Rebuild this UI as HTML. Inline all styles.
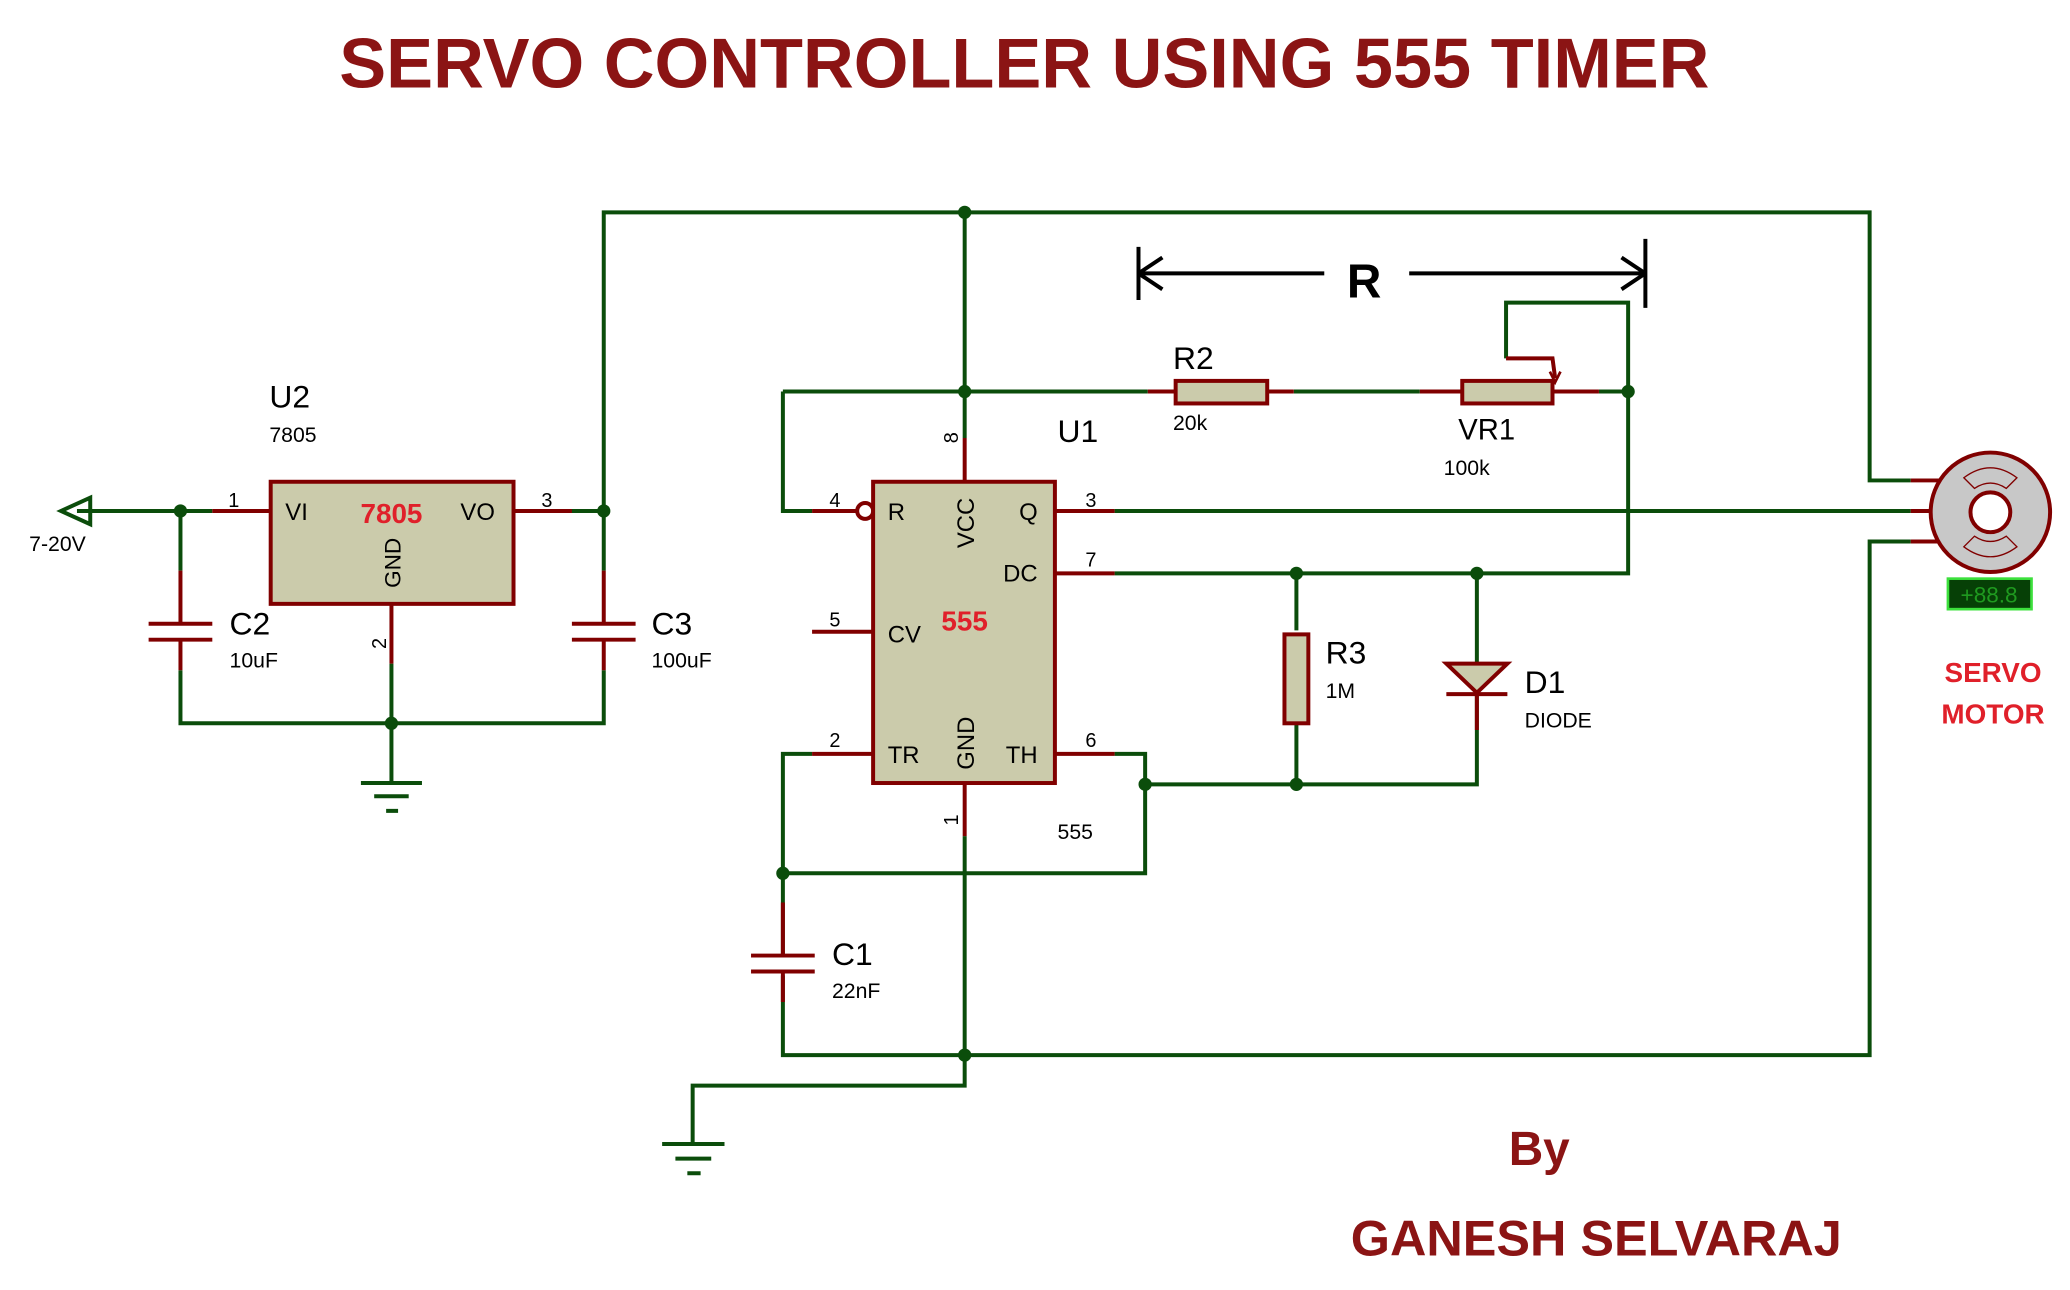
<!DOCTYPE html>
<html><head><meta charset="utf-8"><style>html,body{margin:0;padding:0;background:#fff}svg{display:block}</style></head>
<body>
<svg width="2070" height="1290" viewBox="0 0 1560 972" preserveAspectRatio="none" xmlns="http://www.w3.org/2000/svg" font-family="Liberation Sans, sans-serif">
<rect width="1560" height="972" fill="#fff"/>
<text x="772" y="66" text-anchor="middle" font-size="53" font-weight="bold" fill="#8b1414">SERVO CONTROLLER USING 555 TIMER</text>
<g fill="none" stroke="#0b4d0b" stroke-width="3">
<path d="M58 385 H160"/><path d="M136 385 V430 M136 505 V545 H455 V505 M455 430 V160 H1409 V362 H1440"/>
<path d="M295 545 V590"/><path d="M295 500 V545"/>
<path d="M387 385 H455"/>
<path d="M727 160 V330"/><path d="M590 295 H865 M590 295 V385 H612"/>
<path d="M975 295 H1070 M1205 295 H1227 V432 H840"/>
<path d="M1135 270 V228 H1227 V295"/>
<path d="M840 385 H1440"/>
<path d="M977 432 V475 M977 545 V591 M1113 432 V500 M1113 523 V591 H863 V568 H840 M863 591 V658 H590 V568 H612"/>
<path d="M590 658 V720 M590 735 V795 H1409 V408 H1440"/>
<path d="M727 630 V818 H522 V862"/>
</g>
<g fill="#0b4d0b">
<circle cx="136" cy="385" r="5"/><circle cx="455" cy="385" r="5"/><circle cx="295" cy="545" r="5"/>
<circle cx="727" cy="160" r="5"/><circle cx="727" cy="295" r="5"/><circle cx="1227" cy="295" r="5"/>
<circle cx="977" cy="432" r="5"/><circle cx="1113" cy="432" r="5"/><circle cx="977" cy="591" r="5"/>
<circle cx="863" cy="591" r="5"/><circle cx="590" cy="658" r="5"/><circle cx="727" cy="795" r="5"/>
</g>
<path d="M68 375 L46 385 L68 395 Z" fill="none" stroke="#0b4d0b" stroke-width="3"/>
<text x="22" y="415" font-size="16">7-20V</text>
<g stroke="#0b4d0b" stroke-width="3"><path d="M272 590 H318 M282 600 H308 M291 611 H300"/><path d="M499 862 H546 M509 873 H536 M518 884 H528"/></g>
<g stroke="#800000" stroke-width="3" fill="none">
<path d="M112 470 H160 M112 482 H160 M136 430 V470 M136 482 V505"/>
<path d="M431 470 H479 M431 482 H479 M455 430 V470 M455 482 V505"/>
<path d="M566 720 H614 M566 732 H614 M590 680 V720 M590 732 V755"/>
<path d="M160 385 H204 M387 385 H431 M295 455 V500"/>
<path d="M727 330 V363 M612 476 H658 M612 568 H658 M727 590 V630 M796 385 H840 M796 432 H840 M796 568 H840 M612 385 H646"/>
<path d="M865 295 H886 M955 295 H975 M1070 295 H1102 M1170 295 H1205"/>
<path d="M1135 270 H1170 L1172 285"/>
<path d="M1113 500 V550"/>
<path d="M1440 362 H1470 M1440 385 H1460 M1440 408 H1470"/>
</g>
<circle cx="652" cy="385" r="6" fill="#fff" stroke="#800000" stroke-width="3"/>
<path d="M1168 280 L1172 288 L1176 280" fill="none" stroke="#800000" stroke-width="2"/>
<rect x="204" y="363" width="183" height="92" fill="#cbcbab" stroke="#800000" stroke-width="3"/>
<rect x="658" y="363" width="137" height="227" fill="#cbcbab" stroke="#800000" stroke-width="3"/>
<rect x="886" y="287" width="69" height="17" fill="#cbcbab" stroke="#800000" stroke-width="3"/>
<rect x="1102" y="287" width="68" height="17" fill="#cbcbab" stroke="#800000" stroke-width="3"/>
<rect x="968" y="478" width="18" height="67" fill="#cbcbab" stroke="#800000" stroke-width="3"/>
<path d="M1090 500 H1136 L1113 522 Z" fill="#cbcbab" stroke="#800000" stroke-width="3"/>
<path d="M1090 523 H1136" stroke="#800000" stroke-width="3"/>
<circle cx="1500" cy="386" r="45" fill="#c8c8c8" stroke="#800000" stroke-width="3"/>
<circle cx="1500" cy="386" r="15" fill="#fff" stroke="#800000" stroke-width="3"/>
<path d="M1480 360 Q1500 345 1520 360 L1512 368 Q1500 360 1488 368 Z M1480 412 Q1500 427 1520 412 L1512 404 Q1500 412 1488 404 Z" fill="none" stroke="#800000" stroke-width="1"/>
<rect x="1468" y="436" width="63" height="23" fill="#064006" stroke="#3ce03c" stroke-width="2"/>
<text x="1499" y="454" text-anchor="middle" font-size="17" fill="#1f9a1f">+88.8</text>
<text x="1502" y="514" text-anchor="middle" font-size="21" font-weight="bold" fill="#e0202a">SERVO</text>
<text x="1502" y="545" text-anchor="middle" font-size="21" font-weight="bold" fill="#e0202a">MOTOR</text>
<g stroke="#000" stroke-width="3" fill="none"><path d="M858 206 H998 M858 186 V226 M858 206 L876 194 M858 206 L876 218"/><path d="M1062 206 H1240 M1240 180 V232 M1240 206 L1222 194 M1240 206 L1222 218"/></g>
<text x="1028" y="224" text-anchor="middle" font-size="36" font-weight="bold">R</text>
<g font-size="18" fill="#000">
<text x="203" y="307" font-size="24">U2</text><text x="203" y="333" font-size="16">7805</text>
<text x="215" y="392">VI</text><text x="347" y="392">VO</text>
<text x="172" y="382" font-size="15">1</text><text x="408" y="382" font-size="15">3</text>
<text transform="translate(302 443) rotate(-90)" font-size="17">GND</text>
<text transform="translate(291 489) rotate(-90)" font-size="15">2</text>
<text x="173" y="478" font-size="24">C2</text><text x="173" y="503" font-size="16">10uF</text>
<text x="491" y="478" font-size="24">C3</text><text x="491" y="503" font-size="16">100uF</text>
<text x="627" y="727" font-size="24">C1</text><text x="627" y="752" font-size="16">22nF</text>
<text x="797" y="333" font-size="24">U1</text>
<text x="884" y="278" font-size="24">R2</text><text x="884" y="324" font-size="16">20k</text>
<text x="1099" y="331" font-size="22">VR1</text><text x="1088" y="358" font-size="16">100k</text>
<text x="999" y="500" font-size="24">R3</text><text x="999" y="526" font-size="16">1M</text>
<text x="1149" y="522" font-size="24">D1</text><text x="1149" y="548" font-size="16">DIODE</text>
<text x="797" y="632" font-size="16">555</text>
<text x="669" y="392">R</text><text x="768" y="392">Q</text><text x="756" y="438">DC</text>
<text x="669" y="484">CV</text><text x="669" y="575">TR</text><text x="758" y="575">TH</text>
<text transform="translate(734 413) rotate(-90)">VCC</text>
<text transform="translate(734 580) rotate(-90)">GND</text>
<text x="625" y="382" font-size="15">4</text><text x="818" y="382" font-size="15">3</text>
<text x="818" y="427" font-size="15">7</text><text x="625" y="472" font-size="15">5</text>
<text x="625" y="563" font-size="15">2</text><text x="818" y="563" font-size="15">6</text>
<text transform="translate(722 334) rotate(-90)" font-size="15">8</text>
<text transform="translate(722 622) rotate(-90)" font-size="15">1</text>
</g>
<text x="295" y="394" text-anchor="middle" font-size="21" font-weight="bold" fill="#e0202a">7805</text>
<text x="727" y="475" text-anchor="middle" font-size="21" font-weight="bold" fill="#e0202a">555</text>
<text x="1160" y="878" text-anchor="middle" font-size="36" font-weight="bold" fill="#8b1414">By</text>
<text x="1203" y="946" text-anchor="middle" font-size="38" font-weight="bold" fill="#8b1414">GANESH SELVARAJ</text>
</svg>
</body></html>
